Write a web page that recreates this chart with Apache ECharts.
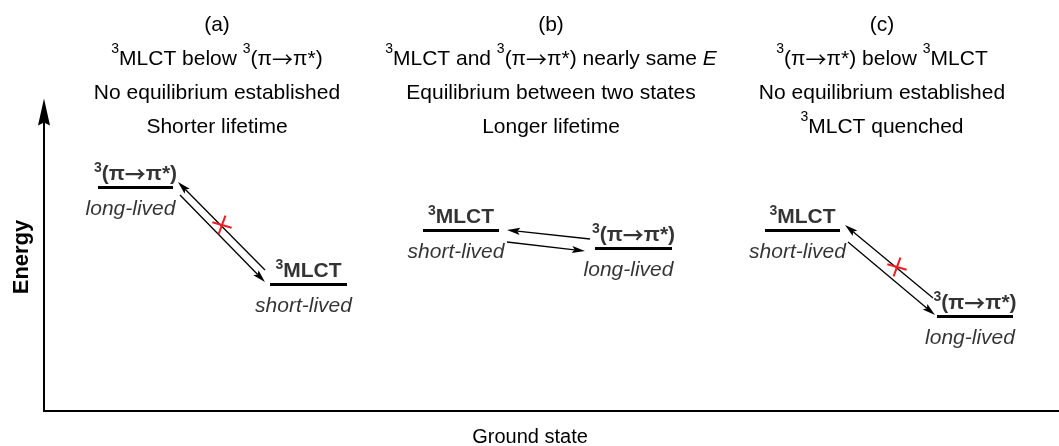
<!DOCTYPE html>
<html><head><meta charset="utf-8">
<script src="https://cdn.jsdelivr.net/npm/echarts@6/dist/echarts.min.js"></script>
<style>html,body{margin:0;padding:0;background:#fff}#c{width:1059px;height:446px}</style>
</head><body><div id="c"></div><script>
// ---- data ----
const panelTag = ['(a)', '(b)', '(c)'];
const panelRelation = ['³MLCT below ³(π→π*)', '³MLCT and ³(π→π*) nearly same ⓔ', '³(π→π*) below ³MLCT'];
const panelEquilibrium = ['No equilibrium established', 'Equilibrium between two states', 'No equilibrium established'];
const panelOutcome = ['Shorter lifetime', 'Longer lifetime', '³MLCT quenched'];

const levelState = ['³(π→π*)', '³MLCT', '³MLCT', '³(π→π*)', '³MLCT', '³(π→π*)'];
const levelLifetime = ['long-lived', 'short-lived', 'short-lived', 'long-lived', 'short-lived', 'long-lived'];
const levelXStart = [54, 226, 379, 551, 721, 893];
const levelXEnd = [129, 303, 455, 628, 796, 969];
const levelEnergy = [224, 127, 181, 163, 181, 95];

const transferFromX = [221, 136, 546, 463, 889, 804];
const transferFromE = [141, 216, 172, 169, 113, 169];
const transferToX = [134, 221, 463, 541, 801, 891];
const transferToE = [229, 129, 181, 160, 186, 96];

const blockedX = [178, 853];
const blockedE = [186, 144];

const axisNameY = 'Energy';
const axisNameX = 'Ground state';

// ---- layout / style ----
const FONT = '"Liberation Sans", Arial, Helvetica, sans-serif';
const ARROWFONT = '"Noto Sans CJK SC", "DejaVu Sans", sans-serif';
const INK = '#000';
const TITLE_X = [217, 551, 882];
const toRich = s => s.replace(/³/g, '{s|3}').replace(/→/g, '{a|→}').replace(/ⓔ/g, '{i|E}');

const chart = echarts.init(document.getElementById('c'), null, { renderer: 'canvas' });

const graphics = TITLE_X.map((x, i) => ({
  type: 'text', x: x, y: 8, silent: true,
  style: {
    text: [panelTag[i], toRich(panelRelation[i]), panelEquilibrium[i], toRich(panelOutcome[i])].join('\n'),
    align: 'center', verticalAlign: 'top',
    fontFamily: FONT, fontSize: 21, lineHeight: 34, fill: INK,
    rich: {
      s: { fontFamily: FONT, fontSize: 14, lineHeight: 26, verticalAlign: 'top', fill: INK },
      a: { fontFamily: ARROWFONT, fontSize: 21, lineHeight: 34, fill: INK },
      i: { fontFamily: FONT, fontSize: 21, lineHeight: 34, fontStyle: 'italic', fill: INK }
    }
  }
}));
graphics.push({
  type: 'text', x: 22, y: 257, rotation: Math.PI / 2, silent: true,
  style: { text: axisNameY, align: 'center', verticalAlign: 'middle', fontFamily: FONT, fontSize: 22, fontWeight: 'bold', fill: INK }
});
graphics.push({
  type: 'text', x: 530, y: 437, silent: true,
  style: { text: axisNameX, align: 'center', verticalAlign: 'middle', fontFamily: FONT, fontSize: 20, fill: INK }
});

const levelCenters = levelXStart.map((x, i) => [(x + levelXEnd[i]) / 2, levelEnergy[i]]);

const option = {
  animation: false,
  backgroundColor: '#fff',
  grid: { left: 44, right: 0, top: 112, bottom: 35, containLabel: false },
  xAxis: {
    type: 'value', min: 0, max: 1015,
    axisLine: { show: true, lineStyle: { color: INK, width: 2 } },
    axisTick: { show: false }, axisLabel: { show: false }, splitLine: { show: false }
  },
  yAxis: {
    type: 'value', min: 0, max: 299,
    axisLine: { show: true, symbol: ['none', 'path://M6,0L12,27L6,24L0,27Z'], symbolSize: [14, 27], lineStyle: { color: INK, width: 2 } },
    axisTick: { show: false }, axisLabel: { show: false }, splitLine: { show: false }
  },
  graphic: graphics,
  series: [
    {
      type: 'lines', coordinateSystem: 'cartesian2d', silent: true,
      lineStyle: { color: INK, width: 3, opacity: 1 },
      data: levelXStart.map((x, i) => ({ coords: [[x, levelEnergy[i]], [levelXEnd[i], levelEnergy[i]]] }))
    },
    {
      type: 'custom', coordinateSystem: 'cartesian2d', silent: true, clip: false,
      data: transferFromX.map((x, i) => [x, transferFromE[i], transferToX[i], transferToE[i]]),
      encode: { x: [0, 2], y: [1, 3] },
      renderItem: function (params, api) {
        const p0 = api.coord([api.value(0), api.value(1)]);
        const p1 = api.coord([api.value(2), api.value(3)]);
        const dx = p1[0] - p0[0], dy = p1[1] - p0[1];
        const len = Math.sqrt(dx * dx + dy * dy);
        const ux = dx / len, uy = dy / len, nx = -uy, ny = ux;
        const L = 13, W = 3.6, N = 10.5;
        const bx = p1[0] - ux * L, by = p1[1] - uy * L;
        const mx = p1[0] - ux * N, my = p1[1] - uy * N;
        return {
          type: 'group',
          children: [
            { type: 'line', shape: { x1: p0[0], y1: p0[1], x2: mx, y2: my }, style: { stroke: INK, lineWidth: 1.3 } },
            { type: 'polygon', shape: { points: [[p1[0], p1[1]], [bx + nx * W, by + ny * W], [mx, my], [bx - nx * W, by - ny * W]] }, style: { fill: INK } }
          ]
        };
      }
    },
    {
      type: 'custom', coordinateSystem: 'cartesian2d', silent: true, clip: false,
      data: blockedX.map((x, i) => [x, blockedE[i]]),
      renderItem: function (params, api) {
        const c = api.coord([api.value(0), api.value(1)]);
        const r = 10, a1 = 16 * Math.PI / 180, a2 = -70 * Math.PI / 180;
        const st = { stroke: '#ee1c25', lineWidth: 2 };
        return {
          type: 'group',
          children: [
            { type: 'line', shape: { x1: c[0] - r * Math.cos(a1), y1: c[1] - r * Math.sin(a1), x2: c[0] + r * Math.cos(a1), y2: c[1] + r * Math.sin(a1) }, style: st },
            { type: 'line', shape: { x1: c[0] - r * Math.cos(a2), y1: c[1] - r * Math.sin(a2), x2: c[0] + r * Math.cos(a2), y2: c[1] + r * Math.sin(a2) }, style: st }
          ]
        };
      }
    },
    {
      type: 'scatter', silent: true, symbolSize: 0,
      data: levelCenters.map((c, i) => ({ value: c, name: levelState[i] })),
      label: {
        show: true, position: [0, -13], align: 'center', verticalAlign: 'middle',
        formatter: p => toRich(p.name),
        fontFamily: FONT, fontSize: 21, fontWeight: 'bold', color: INK, lineHeight: 26,
        rich: {
          s: { fontFamily: FONT, fontSize: 14, fontWeight: 'bold', lineHeight: 18, verticalAlign: 'top', color: INK },
          a: { fontFamily: ARROWFONT, fontSize: 21, fontWeight: 'bold', lineHeight: 26, color: INK }
        }
      }
    },
    {
      type: 'scatter', silent: true, symbolSize: 0,
      data: levelCenters.map((c, i) => ({ value: c, name: levelLifetime[i] })),
      label: {
        show: true, position: [-5, 22], align: 'center', verticalAlign: 'middle',
        formatter: p => p.name,
        fontFamily: FONT, fontSize: 21, fontStyle: 'italic', color: INK
      }
    }
  ]
};
chart.setOption(option);
</script></body></html>
